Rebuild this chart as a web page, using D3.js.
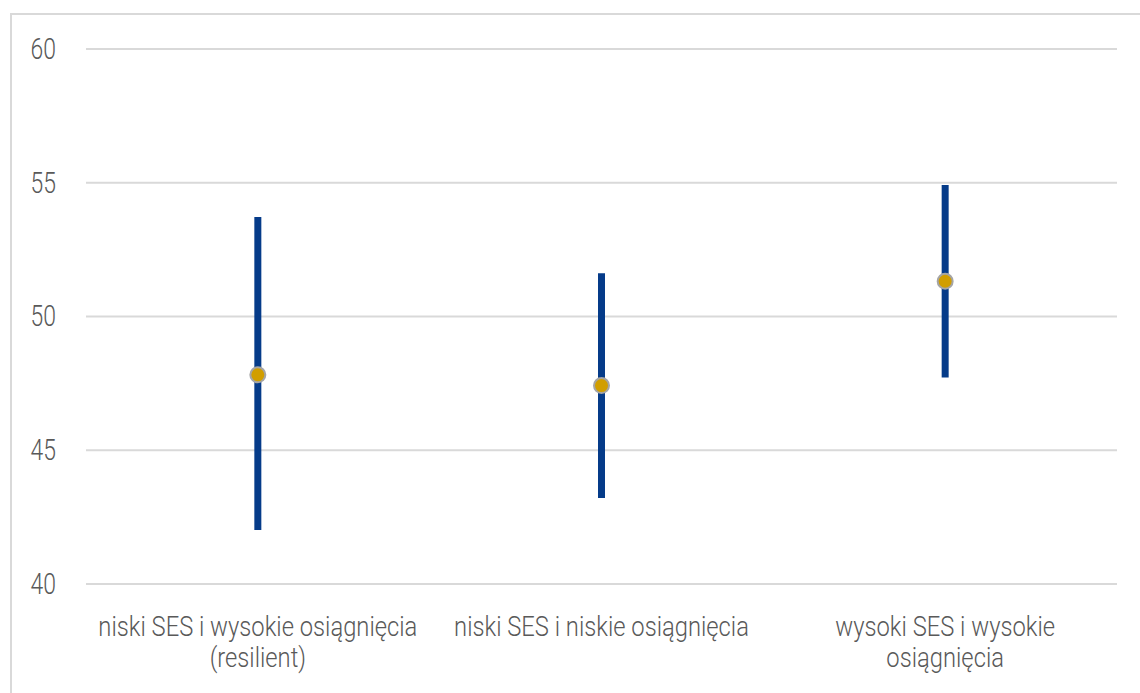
<!DOCTYPE html>
<html>
<head>
<meta charset="utf-8">
<script src="https://cdn.jsdelivr.net/npm/d3@7"></script>
<style>
  html, body { margin: 0; padding: 0; background: #fff; }
  #chart { width: 1140px; height: 693px; }
  text { font-family: Roboto, "Noto Sans", sans-serif; font-weight: 300; fill: #595959; }
</style>
</head>
<body>
<div id="chart"></div>
<script>
const categories = [
  ["niski SES i wysokie osiągnięcia", "(resilient)"],
  ["niski SES i niskie osiągnięcia"],
  ["wysoki SES i wysokie", "osiągnięcia"]
];
const lowValues = [42.0, 43.2, 47.7];
const highValues = [53.7, 51.6, 54.9];
const meanValues = [47.8, 47.4, 51.3];
const yTicks = [40, 45, 50, 55, 60];

const width = 1140, height = 693;
const margin = {top: 48.5, right: 23, bottom: 109.5, left: 86};
const narrow = 0.88;

const svg = d3.select("#chart").append("svg")
    .attr("width", width)
    .attr("height", height);

// outer frame
svg.append("rect")
    .attr("x", 11).attr("y", 14)
    .attr("width", width + 20).attr("height", height + 20)
    .attr("fill", "none")
    .attr("stroke", "#d9d9d9")
    .attr("stroke-width", 2);

const x = d3.scaleBand()
    .domain(d3.range(categories.length))
    .range([margin.left, width - margin.right]);

const y = d3.scaleLinear()
    .domain([40, 60])
    .range([height - margin.bottom, margin.top]);

// gridlines + tick labels
const yAxis = svg.append("g")
    .attr("transform", `translate(${margin.left},0)`)
    .call(d3.axisLeft(y).tickValues(yTicks)
      .tickSize(-(width - margin.left - margin.right)));
yAxis.select(".domain").remove();
yAxis.selectAll(".tick line").attr("stroke", "#d9d9d9").attr("stroke-width", 2);
yAxis.selectAll(".tick text")
    .attr("fill", "#595959")
    .attr("dy", "0.34em")
    .style("font-family", "Roboto, sans-serif")
    .style("font-weight", 300)
    .style("font-size", "29px")
    .attr("transform", "translate(-30,0) scale(0.79,1)")
    .attr("x", 0);

// range bars
svg.append("g").selectAll("line")
    .data(categories)
    .join("line")
    .attr("x1", (d, i) => x(i) + x.bandwidth() / 2)
    .attr("x2", (d, i) => x(i) + x.bandwidth() / 2)
    .attr("y1", (d, i) => y(lowValues[i]))
    .attr("y2", (d, i) => y(highValues[i]))
    .attr("stroke", "#053b89")
    .attr("stroke-width", 7);

// mean markers
svg.append("g").selectAll("circle")
    .data(categories)
    .join("circle")
    .attr("cx", (d, i) => x(i) + x.bandwidth() / 2)
    .attr("cy", (d, i) => y(meanValues[i]))
    .attr("r", 7.5)
    .attr("fill", "#d19e00")
    .attr("stroke", "#a5a5a5")
    .attr("stroke-width", 2);

// category labels
const labels = svg.append("g").selectAll("text")
    .data(categories)
    .join("text")
    .attr("text-anchor", "middle")
    .style("font-size", "27px")
    .attr("transform", (d, i) => `translate(${x(i) + x.bandwidth() / 2},${y(40) + 52}) scale(${narrow},1)`);

labels.selectAll("tspan")
    .data(d => d)
    .join("tspan")
    .attr("x", 0)
    .attr("dy", (d, j) => j === 0 ? 0 : 31.5)
    .text(d => d);
</script>
</body>
</html>
